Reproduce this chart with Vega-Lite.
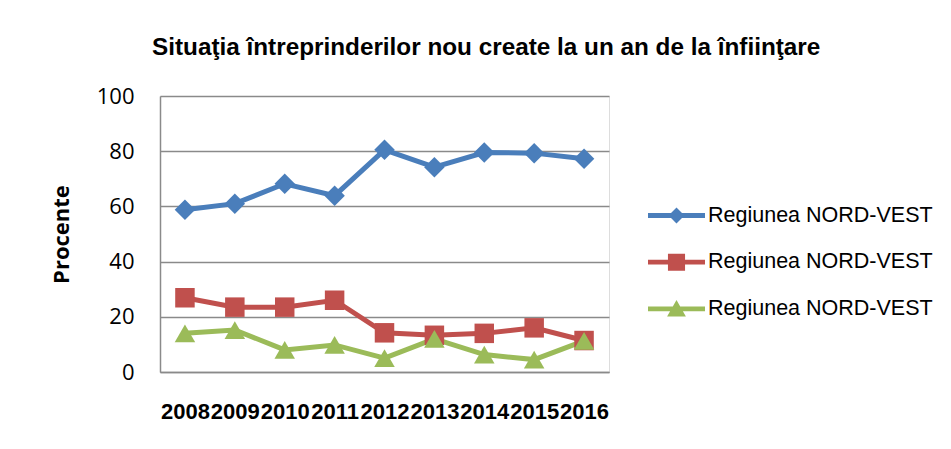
{
  "$schema": "https://vega.github.io/schema/vega-lite/v6.json",
  "width": 449,
  "height": 276,
  "autosize": {"type": "none"},
  "padding": {"left": 160, "top": 96, "right": 342, "bottom": 77},
  "background": "white",
  "title": {
    "text": "Situaţia întreprinderilor nou create la un an de la înfiinţare",
    "font": "Liberation Sans",
    "fontSize": 24.3,
    "fontWeight": "bold",
    "color": "black",
    "anchor": "start",
    "frame": "group",
    "dx": -8,
    "offset": 25
  },
  "data": {
    "values": [
      {"an": "2008", "s": "a", "v": 58.8},
      {"an": "2009", "s": "a", "v": 61.0},
      {"an": "2010", "s": "a", "v": 68.2},
      {"an": "2011", "s": "a", "v": 63.9},
      {"an": "2012", "s": "a", "v": 80.5},
      {"an": "2013", "s": "a", "v": 74.2},
      {"an": "2014", "s": "a", "v": 79.5},
      {"an": "2015", "s": "a", "v": 79.3},
      {"an": "2016", "s": "a", "v": 77.3},
      {"an": "2008", "s": "b", "v": 26.9},
      {"an": "2009", "s": "b", "v": 23.5},
      {"an": "2010", "s": "b", "v": 23.5},
      {"an": "2011", "s": "b", "v": 26.0},
      {"an": "2012", "s": "b", "v": 14.2},
      {"an": "2013", "s": "b", "v": 13.3},
      {"an": "2014", "s": "b", "v": 14.0},
      {"an": "2015", "s": "b", "v": 16.0},
      {"an": "2016", "s": "b", "v": 11.4},
      {"an": "2008", "s": "c", "v": 14.0},
      {"an": "2009", "s": "c", "v": 15.2},
      {"an": "2010", "s": "c", "v": 8.0},
      {"an": "2011", "s": "c", "v": 9.8},
      {"an": "2012", "s": "c", "v": 5.0},
      {"an": "2013", "s": "c", "v": 12.0},
      {"an": "2014", "s": "c", "v": 6.3},
      {"an": "2015", "s": "c", "v": 4.5},
      {"an": "2016", "s": "c", "v": 11.3}
    ]
  },
  "encoding": {
    "x": {
      "field": "an",
      "type": "ordinal",
      "scale": {"type": "point", "padding": 0.5},
      "axis": {
        "title": null,
        "labelAngle": 0,
        "labelFont": "Liberation Sans",
        "labelFontSize": 22,
        "labelFontWeight": "bold",
        "labelColor": "black",
        "labelPadding": 29,
        "ticks": false,
        "domainColor": "#8a8a8a",
        "domainWidth": 1.5,
        "grid": false
      }
    },
    "y": {
      "field": "v",
      "type": "quantitative",
      "scale": {"domain": [0, 100], "nice": false},
      "axis": {
        "title": "Procente",
        "titleFont": "Open Sans",
        "titleFontSize": 22,
        "titleFontWeight": "bold",
        "titleColor": "black",
        "titlePadding": 23,
        "values": [0, 20, 40, 60, 80, 100],
        "labelFont": "Open Sans",
        "labelFontSize": 22,
        "labelColor": "black",
        "labelPadding": 26,
        "ticks": false,
        "domainColor": "#8a8a8a",
        "domainWidth": 1.5,
        "grid": true,
        "gridColor": "#8a8a8a",
        "gridWidth": 1.5
      }
    },
    "color": {
      "field": "s",
      "type": "nominal",
      "scale": {"domain": ["a", "b", "c"], "range": ["#4a7ebb", "#c0504d", "#9bbb59"]},
      "legend": {
        "title": null,
        "orient": "none",
        "legendX": 488,
        "legendY": 91,
        "labelExpr": "'Regiunea NORD-VEST'",
        "labelFont": "Liberation Sans",
        "labelFontSize": 21.5,
        "labelColor": "black",
        "labelLimit": 400,
        "symbolSize": 3249,
        "rowPadding": 7.7,
        "labelOffset": 3,
        "encode": {
          "symbols": {
            "update": {
              "shape": {"signal": "datum.value === 'a' ? 'M-1,-0.085H1V0.085H-1Z M0,-0.28L0.28,0L0,0.28L-0.28,0Z' : datum.value === 'b' ? 'M-1,-0.085H1V0.085H-1Z M-0.3,-0.3H0.3V0.3H-0.3Z' : 'M-1,-0.085H1V0.085H-1Z M0,-0.31L0.33,0.27H-0.33Z'"},
              "fill": {"signal": "datum.value === 'a' ? '#4a7ebb' : datum.value === 'b' ? '#c0504d' : '#9bbb59'"},
              "stroke": {"value": "transparent"},
              "strokeWidth": {"value": 0},
              "opacity": {"value": 1}
            }
          }
        }
      }
    }
  },
  "layer": [
    {
      "mark": {"type": "line", "strokeWidth": 5}
    },
    {
      "transform": [{"filter": "datum.s === 'a'"}],
      "mark": {"type": "point", "shape": "diamond", "filled": true, "opacity": 1, "size": 420}
    },
    {
      "transform": [{"filter": "datum.s === 'b'"}],
      "mark": {"type": "point", "shape": "square", "filled": true, "opacity": 1, "size": 380}
    },
    {
      "transform": [{"filter": "datum.s === 'c'"}],
      "mark": {"type": "point", "shape": "triangle-up", "filled": true, "opacity": 1, "size": 420}
    }
  ]
}
